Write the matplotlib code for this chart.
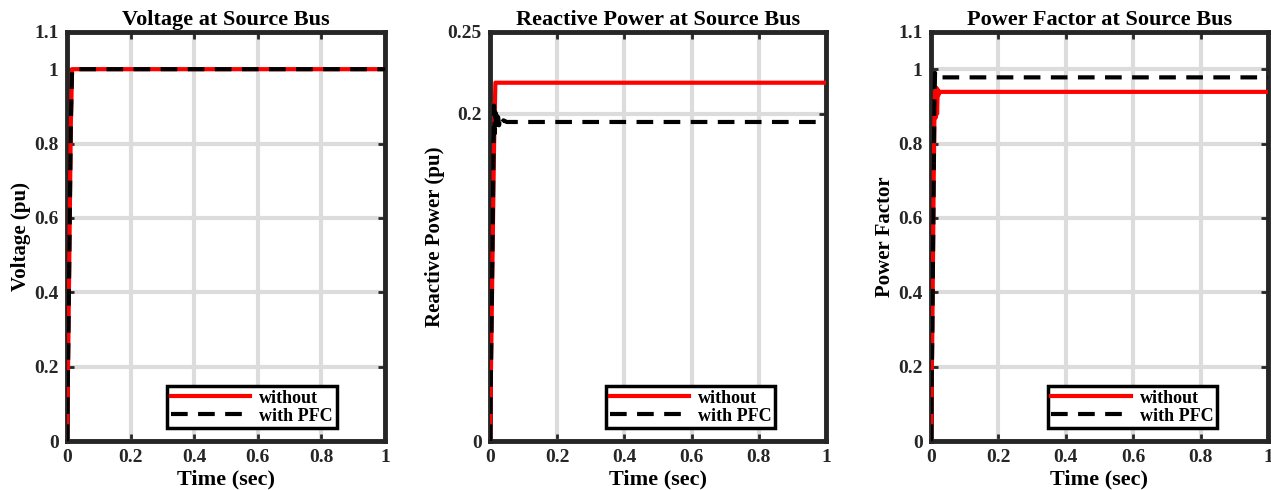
import numpy as np
import matplotlib.pyplot as plt

plt.rcParams['font.family'] = ['Liberation Serif', 'DejaVu Serif']
plt.rcParams['font.weight'] = 'bold'

# Напряжение на шине источника (о.е.)
t_v = [0.0, 0.004, 0.008, 0.012, 0.016, 1.0]
v_without = [0.0, 0.25, 0.55, 0.85, 1.0, 1.0]
v_pfc = [0.0, 0.25, 0.55, 0.85, 1.0, 1.0]

# Реактивная мощность (о.е.)
t_q = [0.0, 0.004, 0.008, 0.012, 0.016, 1.0]
q_without = [0.0, 0.06, 0.12, 0.18, 0.219, 0.219]
t_q_pfc = [0.0, 0.004, 0.008, 0.010, 0.012, 0.014, 0.016, 0.018, 0.020,
           0.022, 0.024, 0.027, 0.030, 0.034, 0.040, 0.050, 1.0]
q_pfc = [0.0, 0.06, 0.13, 0.17, 0.205, 0.188, 0.201, 0.190, 0.199,
         0.192, 0.198, 0.193, 0.197, 0.194, 0.196, 0.195, 0.195]

# Коэффициент мощности
t_pf = [0.0, 0.004, 0.008, 0.010, 0.012, 0.014, 0.016, 0.018, 0.020,
        0.022, 0.025, 1.0]
pf_without = [0.0, 0.3, 0.7, 0.86, 0.94, 0.87, 0.95, 0.88, 0.945,
              0.93, 0.939, 0.939]
t_pf_pfc = [0.0, 0.004, 0.008, 0.010, 0.012, 0.015, 1.0]
pf_pfc = [0.0, 0.3, 0.7, 0.9, 0.99, 0.978, 0.978]

x_ticks = [0, 0.2, 0.4, 0.6, 0.8, 1]
x_labels = ['0', '0.2', '0.4', '0.6', '0.8', '1']

panels = [
    dict(title='Voltage at Source Bus', ylabel='Voltage (pu)',
         t1=t_v, y1=v_without, t2=t_v, y2=v_pfc, ylim=1.1,
         yticks=[0, 0.2, 0.4, 0.6, 0.8, 1, 1.1],
         ylabels=['0', '0.2', '0.4', '0.6', '0.8', '1', '1.1']),
    dict(title='Reactive Power at Source Bus', ylabel='Reactive Power (pu)',
         t1=t_q, y1=q_without, t2=t_q_pfc, y2=q_pfc, ylim=0.25,
         yticks=[0, 0.2, 0.25], ylabels=['0', '0.2', '0.25']),
    dict(title='Power Factor at Source Bus', ylabel='Power Factor',
         t1=t_pf, y1=pf_without, t2=t_pf_pfc, y2=pf_pfc, ylim=1.1,
         yticks=[0, 0.2, 0.4, 0.6, 0.8, 1, 1.1],
         ylabels=['0', '0.2', '0.4', '0.6', '0.8', '1', '1.1']),
]

W, H = 1271, 490
boxes = [(67, 318), (490, 336), (931, 337)]
fig = plt.figure(figsize=(W / 100, H / 100), dpi=100)

for (x0, w), p in zip(boxes, panels):
    ax = fig.add_axes([x0 / W, (H - 441) / H, w / W, 409 / H])
    ax.plot(p['t1'], p['y1'], color='red', lw=3, label='without', zorder=3)
    ax.plot(p['t2'], p['y2'], color='black', lw=3, ls=(0, (4, 2.5)),
            label='with PFC', zorder=4)
    ax.set_xlim(0, 1)
    ax.set_ylim(0, p['ylim'])
    ax.set_xticks(x_ticks)
    ax.set_xticklabels(x_labels)
    ax.set_yticks(p['yticks'])
    ax.set_yticklabels(p['ylabels'])
    ax.grid(True, color='#dcdcdc', lw=3, zorder=0)
    ax.set_axisbelow(True)
    for s in ax.spines.values():
        s.set_linewidth(3.5)
        s.set_color('#262626')
    ax.tick_params(direction='in', length=5, width=2, color='#262626',
                   top=True, right=True, labelsize=14, pad=6)
    for lbl in ax.get_xticklabels() + ax.get_yticklabels():
        lbl.set_fontweight('bold')
        lbl.set_color('#262626')
    ax.set_title(p['title'], fontsize=16, fontweight='bold', pad=5)
    ax.set_ylabel(p['ylabel'], fontsize=15, fontweight='bold', labelpad=2)
    ax.set_xlabel('Time (sec)', fontsize=16, fontweight='bold', labelpad=2)
    leg = ax.legend(loc='lower right', bbox_to_anchor=(0.865, 0.018),
                    fancybox=False, framealpha=1, edgecolor='black',
                    prop={'weight': 'bold', 'size': 13}, handlelength=4.4,
                    borderpad=0.2, labelspacing=0.05, handletextpad=0.5,
                    borderaxespad=0.3)
    leg.get_frame().set_linewidth(2.5)

fig.savefig('out.png', dpi=100)
